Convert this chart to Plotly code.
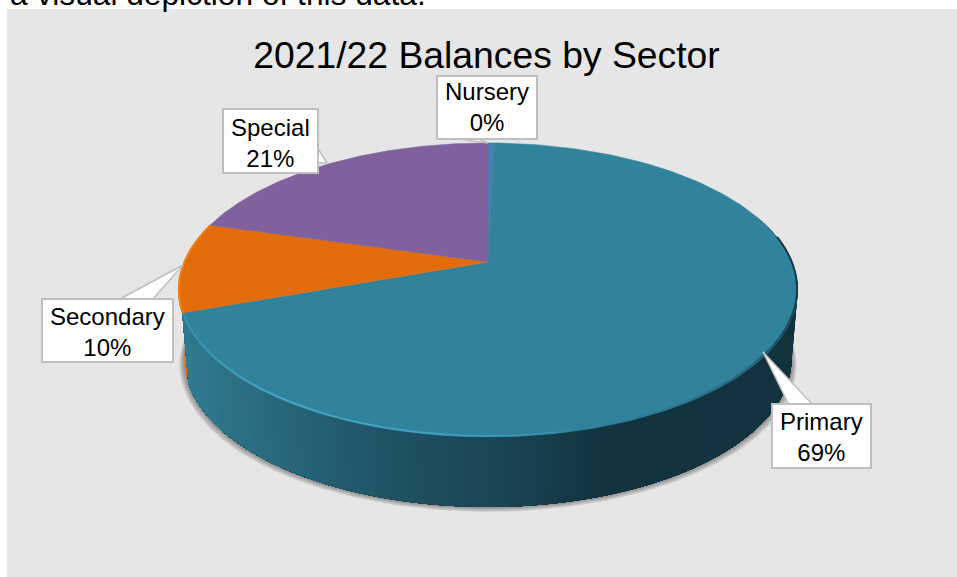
import numpy as np
import plotly.graph_objects as go

# ---- data ----
categories = ["Nursery", "Primary", "Secondary", "Special"]
values = [0.4, 69.1, 9.9, 20.6]
title_text = "2021/22 Balances by Sector"
top_colors = ["#4A7EB5", "#31829B", "#E36C0A", "#7F619D"]
wall_colors = {"Secondary": "#E8730C"}

# ---- layout geometry (pixels) ----
W, H = 957, 577
CX, CY = 488.0, 262.0
K, A, B = 0.19, 141.7, 304.0
DEPTH, WALL_XS = 70.0, 0.98

label_boxes = {  # x0, x1, y0, y1, tail tip, tail base
    "Nursery": (437, 537, 76, 139, (488, 143), (453, 138), (479, 139)),
    "Primary": (772, 871, 404, 468, (763, 352), (789, 405), (813, 405)),
    "Secondary": (42, 173, 299, 362, (183, 265), (118, 300), (152, 300)),
    "Special": (223, 318, 109, 173, (327, 163), (317, 147), (317, 163)),
}
label_text_y = {"Nursery": 106.5, "Primary": 436.5, "Secondary": 332, "Special": 142.5}


def top(theta, scale=1.0):
    """Perspective projection of the angle clockwise from 12 o'clock."""
    u, v = np.sin(theta), np.cos(theta)
    d = 1 + K * v
    return CX + scale * B * u / d, CY - A * v / d


def bottom(theta, grow=0.0):
    x, y = top(theta, WALL_XS + grow / 300.0)
    return x, y + DEPTH + grow


def hex_rgb(c):
    c = c.lstrip("#")
    return [int(c[i:i + 2], 16) for i in (0, 2, 4)]


def ramp(pos, stops):
    xs = [s[0] for s in stops]
    rgb = np.array([hex_rgb(s[1]) for s in stops], float)
    col = [np.interp(pos, xs, rgb[:, i]) for i in range(3)]
    return "rgb(%d,%d,%d)" % tuple(int(round(c)) for c in col)


WALL_STOPS = [(187, "#2F7B90"), (260, "#2B6C81"), (300, "#266377"), (400, "#1D5163"),
              (500, "#1A4555"), (600, "#12343F"), (800, "#12333F")]
EDGE_STOPS = [(80, "#12333F"), (110, "#17424F"), (140, "#2A6F86"), (165, "#31829B"),
              (180, "#3F9BB9"), (215, "#46A6C8"), (240, "#3A93AD"), (251, "#3A93AD")]

fractions = np.array(values) / sum(values)
edges = np.concatenate([[0], np.cumsum(fractions)]) * 2 * np.pi
start = dict(zip(categories, edges[:-1]))
end = dict(zip(categories, edges[1:]))

fig = go.Figure()


def poly(x, y, color, line=0.6):
    fig.add_trace(go.Scatter(x=x, y=y, mode="lines", fill="toself", fillcolor=color,
                             line=dict(color=color, width=line), hoverinfo="skip",
                             showlegend=False))


# soft shadow under the pie
shadow_t = np.radians(np.linspace(75, 285, 160))
for g in (5, 4, 3, 2, 1):
    bx, by = bottom(shadow_t, g)
    poly(bx, by, "rgba(70,70,70,0.13)", 0)

# side wall: Secondary sliver, then Primary in overlapping gradient strips
sec_t = np.linspace(end["Primary"], end["Secondary"], 30)
tx, ty = top(sec_t)
bx, by = bottom(sec_t)
poly(np.r_[tx, bx[::-1]], np.r_[ty, by[::-1]], wall_colors["Secondary"])

wall_angles = np.radians(np.arange(70, np.degrees(end["Primary"]), 1.0))
for t0 in wall_angles:
    # each strip runs on to the end of the wall and is painted over by the next
    seg = np.linspace(t0, end["Primary"], 60)
    tx, ty = top(seg)
    bx, by = bottom(seg)
    mid_x = bottom(np.array([t0 + np.radians(0.5)]))[0][0]
    poly(np.r_[tx, bx[::-1]], np.r_[ty, by[::-1]], ramp(mid_x, WALL_STOPS), 0)

# top faces
for name, color in zip(categories, top_colors):
    seg = np.linspace(start[name], end[name], 200)
    tx, ty = top(seg)
    poly(np.r_[CX, tx, CX], np.r_[CY, ty, CY], color, 0.5)

# bevel on the rim of the top face
rim = np.radians(np.arange(80, np.degrees(end["Primary"]), 2.0))
rim = np.r_[rim, end["Primary"]]
for t0, t1 in zip(rim[:-1], rim[1:]):
    seg = np.linspace(t0, t1, 3)
    tx, ty = top(seg, 0.998)
    deg = np.degrees((t0 + t1) / 2)
    fig.add_trace(go.Scatter(x=tx, y=ty - 1, mode="lines", hoverinfo="skip", showlegend=False,
                             line=dict(color=ramp(deg, EDGE_STOPS), width=2)))
sec_rim = np.linspace(end["Primary"], end["Secondary"], 40)
tx, ty = top(sec_rim, 0.998)
fig.add_trace(go.Scatter(x=tx, y=ty, mode="lines", hoverinfo="skip", showlegend=False,
                         line=dict(color="#F27C10", width=2)))

# callout tails
for name in categories:
    x0, x1, y0, y1, tip, b0, b1 = label_boxes[name]
    xs = [b0[0], tip[0], b1[0], b0[0]]
    ys = [b0[1], tip[1], b1[1], b0[1]]
    fig.add_trace(go.Scatter(x=xs, y=ys, mode="lines", fill="toself", fillcolor="white",
                             line=dict(color="#BFBFBF", width=1.5), hoverinfo="skip",
                             showlegend=False))

annotations = [dict(x=8, y=14, xref="x", yref="y", xanchor="left", yanchor="bottom",
                    text="a visual depiction of this data.", showarrow=False,
                    font=dict(family="Liberation Sans", size=31.7, color="#000000"))]

shapes = [dict(type="rect", xref="x", yref="y", x0=7, x1=W, y0=9, y1=H,
               fillcolor="#E6E6E6", line=dict(width=0), layer="below")]

# callout boxes and their labels
for name, frac in zip(categories, fractions):
    x0, x1, y0, y1, *_ = label_boxes[name]
    shapes.append(dict(type="rect", xref="x", yref="y", x0=x0, x1=x1, y0=y0, y1=y1,
                       fillcolor="white", line=dict(color="#BFBFBF", width=2), layer="above"))
    annotations.append(dict(
        x=(x0 + x1) / 2, y=label_text_y[name], xref="x", yref="y",
        xanchor="center", yanchor="middle", showarrow=False, align="center",
        text="%s<br>%d%%" % (name, round(frac * 100)),
        font=dict(family="Liberation Sans", size=24, color="#000000")))

fig.update_layout(
    width=W, height=H, autosize=False,
    margin=dict(l=0, r=0, t=0, b=0),
    paper_bgcolor="white", plot_bgcolor="rgba(0,0,0,0)",
    showlegend=False,
    title=dict(text=title_text, x=486.5 / W, xanchor="center", xref="paper",
               y=1 - 55 / H, yanchor="middle", yref="paper",
               font=dict(family="Liberation Sans", size=37.3, color="#000000")),
    xaxis=dict(range=[0, W], visible=False, fixedrange=True),
    yaxis=dict(range=[H, 0], visible=False, fixedrange=True),
    shapes=shapes,
    annotations=annotations,
)

fig.write_html("out.html", post_script="document.body.style.margin='0';document.body.style.overflow='hidden';",
               config={"displayModeBar": False})
